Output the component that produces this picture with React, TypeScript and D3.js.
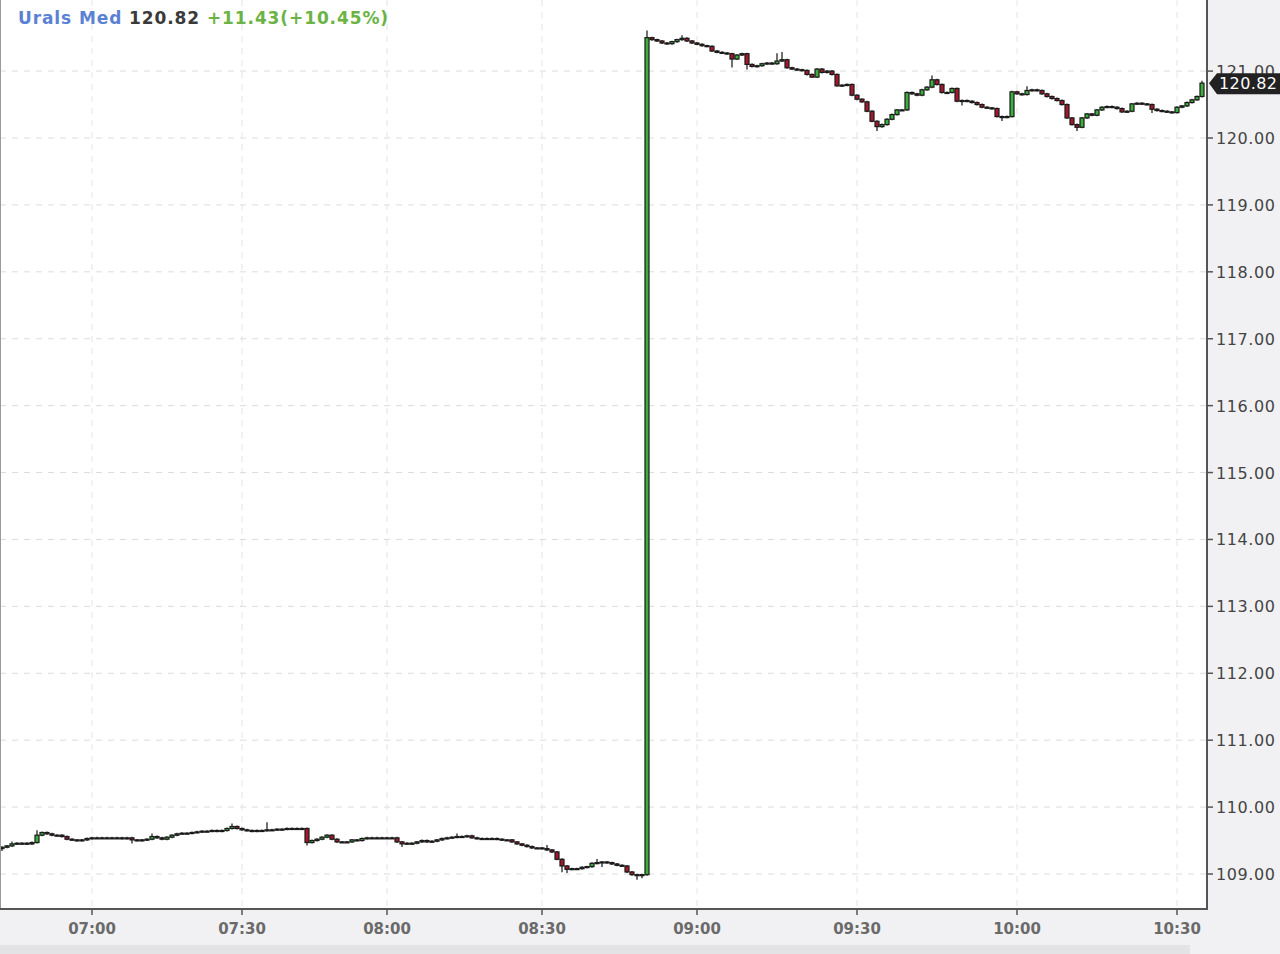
import React from 'react';
import * as d3 from 'd3';

// 1-minute closes (06:42 .. 10:36)
const closes: number[] = [
  109.40, 109.42, 109.45, 109.46, 109.46, 109.45, 109.47, 109.58, 109.62, 109.60,
  109.58, 109.58, 109.56, 109.52, 109.51, 109.50, 109.51, 109.53, 109.54, 109.54,
  109.54, 109.54, 109.54, 109.54, 109.53, 109.54, 109.51, 109.50, 109.51, 109.52,
  109.56, 109.54, 109.52, 109.55, 109.58, 109.60, 109.61, 109.61, 109.62, 109.63,
  109.64, 109.64, 109.65, 109.64, 109.65, 109.68, 109.71, 109.68, 109.66, 109.65,
  109.64, 109.65, 109.65, 109.66, 109.66, 109.67, 109.67, 109.68, 109.68, 109.68,
  109.68, 109.47, 109.50, 109.52, 109.55, 109.58, 109.52, 109.48, 109.48, 109.48,
  109.51, 109.50, 109.53, 109.54, 109.54, 109.54, 109.54, 109.54, 109.54, 109.48,
  109.45, 109.46, 109.46, 109.48, 109.50, 109.48, 109.49, 109.51, 109.53, 109.54,
  109.55, 109.56, 109.56, 109.57, 109.54, 109.53, 109.53, 109.53, 109.53, 109.52,
  109.51, 109.51, 109.48, 109.45, 109.43, 109.41, 109.39, 109.39, 109.38, 109.36,
  109.33, 109.22, 109.12, 109.07, 109.08, 109.08, 109.10, 109.11, 109.16, 109.17,
  109.18, 109.17, 109.15, 109.13, 109.12, 109.03, 108.99, 108.98, 108.99, 121.50,
  121.47, 121.45, 121.42, 121.41, 121.44, 121.47, 121.49, 121.45, 121.42, 121.40,
  121.38, 121.37, 121.30, 121.28, 121.27, 121.26, 121.18, 121.24, 121.26, 121.10,
  121.07, 121.08, 121.11, 121.12, 121.11, 121.15, 121.17, 121.05, 121.03, 121.02,
  121.01, 120.95, 120.91, 121.03, 120.98, 121.00, 120.95, 120.78, 120.79, 120.80,
  120.64, 120.58, 120.54, 120.40, 120.25, 120.17, 120.20, 120.28, 120.35, 120.42,
  120.42, 120.68, 120.66, 120.64, 120.72, 120.76, 120.87, 120.80, 120.68, 120.68,
  120.74, 120.55, 120.56, 120.55, 120.53, 120.50, 120.46, 120.45, 120.44, 120.32,
  120.31, 120.32, 120.69, 120.66, 120.65, 120.71, 120.72, 120.71, 120.66, 120.62,
  120.59, 120.56, 120.50, 120.30, 120.20, 120.16, 120.30, 120.36, 120.34, 120.42,
  120.46, 120.47, 120.46, 120.44, 120.39, 120.40, 120.51, 120.52, 120.51, 120.50,
  120.43, 120.41, 120.40, 120.39, 120.38, 120.46, 120.48, 120.53, 120.57, 120.62,
  120.82,
];
const firstOpen = 109.38;
const gapOpen = 108.99; // open of the 08:48 candle

// notable wick extremes [candle index, price]
const wickHighs: [number, number][] = [
  [2, 109.47], [7, 109.64], [30, 109.59], [46, 109.74], [53, 109.76], [91, 109.59],
  [109, 109.42], [119, 109.21], [129, 121.59], [136, 121.52], [155, 121.25],
  [156, 121.27], [186, 120.92], [205, 120.76], [240, 120.84],
];
const wickLows: [number, number][] = [
  [0, 109.36], [26, 109.47], [61, 109.44], [80, 109.42], [112, 109.04], [113, 109.03],
  [120, 109.12], [127, 108.93], [128, 108.95], [146, 121.07], [149, 121.04],
  [175, 120.12], [192, 120.5], [200, 120.27], [215, 120.12], [230, 120.39],
];

const timeLabels = ['07:00', '07:30', '08:00', '08:30', '09:00', '09:30', '10:00', '10:30'];
const timeTickIndex = [18, 48, 77, 108, 139, 171, 203, 235];
const priceTicks = [109, 110, 111, 112, 113, 114, 115, 116, 117, 118, 119, 120, 121];

const symbolName = 'Urals Med';
const lastPrice = 120.82;
const changeText = '+11.43(+10.45%)';

const W = 1280;
const H = 954;
const plotRight = 1207;
const plotBottom = 909;

export default function App() {
  const x = d3.scaleLinear().domain([0, closes.length - 1]).range([2, 1202]);
  const y = d3.scaleLinear().domain([109, 120]).range([874, 138]);

  const hiMap = new Map(wickHighs);
  const loMap = new Map(wickLows);
  const gapIndex = closes.findIndex((c, i) => i > 0 && c - closes[i - 1] > 5);

  const candles = closes.map((c, i) => {
    const o = i === 0 ? firstOpen : i === gapIndex ? gapOpen : closes[i - 1];
    const h = Math.max(o, c, hiMap.get(i) ?? -Infinity);
    const l = Math.min(o, c, loMap.get(i) ?? Infinity);
    return { i, o, c, h, l };
  });

  const bw = 4;
  const fmt = d3.format('.2f');
  const ly = y(lastPrice);

  return (
    <svg
      width={W}
      height={H}
      style={{ position: 'absolute', left: 0, top: 0, fontFamily: 'DejaVu Sans, sans-serif' }}
    >
      <rect x={0} y={0} width={W} height={H} fill="#f1f1f3" />
      <rect x={0} y={0} width={plotRight} height={plotBottom} fill="#ffffff" />
      <rect x={0} y={945} width={1190} height={9} fill="#e3e3e5" />

      {/* grid */}
      {priceTicks.map(p => (
        <line key={'gy' + p} x1={0} x2={plotRight} y1={y(p)} y2={y(p)}
          stroke="#dcdcdc" strokeWidth={1} strokeDasharray="6,6" />
      ))}
      {timeTickIndex.map(t => (
        <line key={'gx' + t} x1={x(t)} x2={x(t)} y1={0} y2={plotBottom}
          stroke="#e4e4e4" strokeWidth={1} strokeDasharray="6,6" />
      ))}

      {/* candles */}
      {candles.map(d => {
        const up = d.c >= d.o;
        const top = y(Math.max(d.o, d.c));
        const bh = Math.max(1, y(Math.min(d.o, d.c)) - top);
        return (
          <g key={d.i}>
            <line x1={x(d.i)} x2={x(d.i)} y1={y(d.h) - 1} y2={y(d.l) + 1} stroke="#111" strokeWidth={1.2} />
            <rect x={x(d.i) - bw / 2} y={top} width={bw} height={bh}
              fill={up ? '#3cae3c' : '#a3182c'} stroke="#1a1a1a" strokeWidth={1.2} />
          </g>
        );
      })}

      {/* frame */}
      <line x1={0.5} x2={0.5} y1={0} y2={plotBottom} stroke="#9a9a9a" />
      <line x1={0} x2={plotRight + 1} y1={plotBottom} y2={plotBottom} stroke="#555" strokeWidth={2} />
      <line x1={plotRight} x2={plotRight} y1={0} y2={plotBottom} stroke="#555" strokeWidth={2} />

      {/* y axis */}
      {priceTicks.map(p => (
        <g key={'yl' + p}>
          <line x1={plotRight} x2={plotRight + 6} y1={y(p)} y2={y(p)} stroke="#555" strokeWidth={1.5} />
          <text x={1216} y={y(p) + 6} fontSize={16} fill="#444" letterSpacing={0.6}>{fmt(p)}</text>
        </g>
      ))}

      {/* x axis */}
      {timeTickIndex.map((t, k) => (
        <g key={'xl' + t}>
          <line x1={x(t)} x2={x(t)} y1={plotBottom} y2={plotBottom + 6} stroke="#555" strokeWidth={1.5} />
          <text x={x(t)} y={934} fontSize={15} fontWeight="bold" fill="#6a6a6a" textAnchor="middle">
            {timeLabels[k]}
          </text>
        </g>
      ))}

      {/* last price marker */}
      <path
        d={`M${plotRight + 2},${ly} L${plotRight + 10},${ly - 10} L${W},${ly - 10} L${W},${ly + 11} L${plotRight + 10},${ly + 11} Z`}
        fill="#222"
      />
      <text x={1219} y={ly + 6} fontSize={16} fill="#fff" letterSpacing={0.4}>{fmt(lastPrice)}</text>

      {/* title */}
      <text x={18} y={24} fontSize={17} fontWeight="bold" letterSpacing={0.9}>
        <tspan fill="#5b82d2">{symbolName}</tspan>
        <tspan fill="#3a3a3a"> {fmt(lastPrice)}</tspan>
        <tspan fill="#6ab344"> {changeText}</tspan>
      </text>
    </svg>
  );
}
